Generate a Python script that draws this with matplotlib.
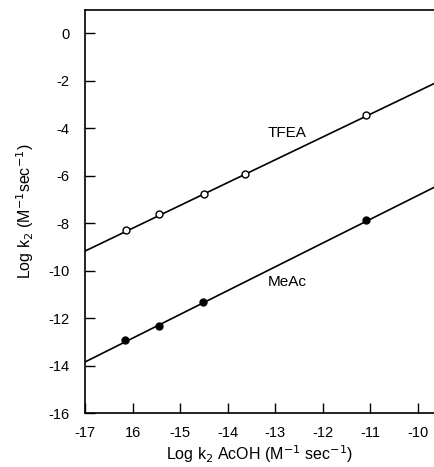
import numpy as np
import matplotlib.pyplot as plt

plt.rcParams['font.family'] = ['Liberation Sans', 'DejaVu Sans']
plt.rcParams['axes.unicode_minus'] = False

# TFEA (open circles)
tfea_x = [-16.14, -15.45, -14.50, -13.64, -11.10]
tfea_y = [-8.29, -7.62, -6.78, -5.94, -3.45]
# MeAc (filled circles)
meac_x = [-16.16, -15.45, -14.52, -11.10]
meac_y = [-12.93, -12.34, -11.33, -7.87]

# fitted lines, end points
tfea_line_x = [-17.0, -9.66]
tfea_line_y = [-9.18, -2.13]
meac_line_x = [-17.0, -9.66]
meac_line_y = [-13.85, -6.50]

xticks = [-17, -16, -15, -14, -13, -12, -11, -10]
xticklabels = ["-17", "16", "-15", "-14", "-13", "-12", "-11", "-10"]
yticks = [0, -2, -4, -6, -8, -10, -12, -14, -16]
yticklabels = ["0", "-2", "-4", "-6", "-8", "-10", "-12", "-14", "-16"]

fig = plt.figure(figsize=(4.34, 4.67), dpi=100)
ax = fig.add_axes([0.196, 0.1156, 0.804, 0.863])

ax.plot(tfea_line_x, tfea_line_y, color="black", lw=1.2)
ax.plot(meac_line_x, meac_line_y, color="black", lw=1.2)
ax.plot(tfea_x, tfea_y, "o", ms=5, mfc="white", mec="black", mew=1.0)
ax.plot(meac_x, meac_y, "o", ms=5, mfc="black", mec="black")

ax.text(-12.75, -4.2, "TFEA", fontsize=11, ha="center", va="center")
ax.text(-12.75, -10.5, "MeAc", fontsize=11, ha="center", va="center")

ax.set_xlim(-17, -9.66)
ax.set_ylim(-16, 0.97)
ax.set_xticks(xticks)
ax.set_xticklabels(xticklabels)
ax.set_yticks(yticks)
ax.set_yticklabels(yticklabels)
ax.tick_params(direction="in", length=7, width=1.0, labelsize=10.5)
ax.tick_params(axis="y", pad=11)
ax.tick_params(axis="x", pad=9)
ax.spines["right"].set_visible(False)
for s in ["left", "bottom", "top"]:
    ax.spines[s].set_linewidth(1.2)

ax.set_xlabel("Log k$_2$ AcOH (M$^{-1}$ sec$^{-1}$)", fontsize=11.5, labelpad=3)
ax.set_ylabel("Log k$_2$ (M$^{-1}$sec$^{-1}$)", fontsize=11.5, labelpad=9)

fig.savefig("out.png", dpi=100)
